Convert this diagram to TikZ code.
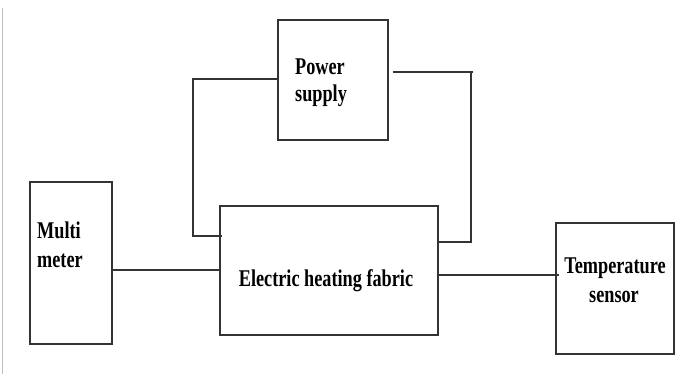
\documentclass[tikz,border=0pt]{standalone}
\usepackage{fontspec}
\setmainfont{Liberation Serif}[FakeStretch=0.76]
\begin{document}
\begin{tikzpicture}[x=1pt,y=-1pt,
  box/.style={draw=black!80,line width=1.4pt,inner sep=0pt},
  wire/.style={draw=black!80,line width=1.4pt},
  lbl/.style={inner sep=0pt,font=\fontsize{24}{29}\selectfont\bfseries}]
\useasboundingbox (0,0) rectangle (676,374);
\draw[black!25,line width=0.8pt] (2,8) -- (2,374);
% boxes
\node[box,minimum width=110pt,minimum height=120pt] (ps) at (333,80) {};
\node[box,minimum width=218pt,minimum height=129pt] (heat) at (329,270.5) {};
\node[box,minimum width=82pt,minimum height=162pt] (mm) at (71,263) {};
\node[box,minimum width=118pt,minimum height=131pt] (ts) at (615,288.5) {};
% texts
\node[lbl,anchor=base west] (t1) at (295,75) {Power};
\node[lbl,anchor=base west] (t2) at (295,102) {supply};
\node[lbl,anchor=base west] (t3) at (37,238) {Multi};
\node[lbl,anchor=base west] (t4) at (37,267) {meter};
\node[lbl,anchor=base] (t5) at (326,286) {Electric heating fabric};
\node[lbl,anchor=base] (t6) at (615,273) {Temperature};
\node[lbl,anchor=base] (t7) at (614,302) {sensor};
% wires
\coordinate (lw) at ([xshift=3pt]heat.west |- 0,236);
\draw[wire] (ps.west |- 0,79) -| (193,236) -- (lw);
\coordinate (rs) at ([xshift=4pt]ps.east |- 0,72);
\draw[wire] (rs) -- (473,72);
\draw[wire] (471,72) -- (471,242) -- (heat.east |- 0,242);
\draw[wire] ([xshift=-2pt]mm.east |- 0,270) -- (heat.west |- 0,270);
\coordinate (te) at ([xshift=4pt]ts.west |- 0,275);
\draw[wire] (heat.east |- 0,275) -- (te);
\end{tikzpicture}
\end{document}
